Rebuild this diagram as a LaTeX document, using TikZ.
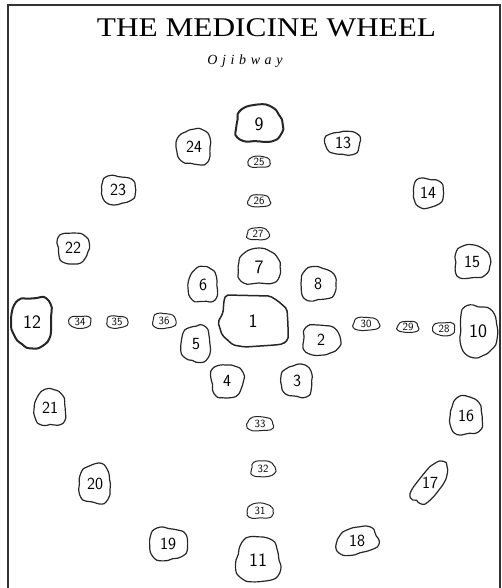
\documentclass[tikz,border=0pt]{standalone}
\usepackage{graphicx}
\usepackage{fontspec}
\newfontfamily\titlefont{Liberation Serif}
\tikzset{
  numlabel/.style={inner sep=0pt, font=\sffamily},
  blobline/.style={line width=1.2pt, line join=round, black!85},
  small/.style={font=\sffamily\fontsize{11}{11}\selectfont, line width=1pt},
  med/.style={font=\sffamily\fontsize{17}{17}\selectfont},
  big/.style={font=\sffamily\fontsize{19}{19}\selectfont},
  heavy/.style={line width=2pt},
  framestyle/.style={line width=1.4pt, black!80},
}
% #1 rotation, #2 name, #3 x, #4 y, #5 width, #6 height, #7 label, #8 style
\newcommand\blob[8][0]{%
  \node[numlabel,#8] (#2) at (#3,#4) {#7};
  \begin{scope}[shift={(#3,#4)},rotate=#1]
    \draw[blobline,#8] plot[smooth cycle, samples=24, domain=0:345, variable=\t]
      ({#5/2*cos(\t)*(1+0.06*(1-cos(4*\t))+0.06*sin(3*\t+#3*7)+0.03*cos(5*\t+#4*3)+0.015*sin(11*\t+#3))},
       {#6/2*sin(\t)*(1+0.06*(1-cos(4*\t))+0.06*sin(3*\t+#3*7)+0.03*cos(5*\t+#4*3)+0.015*sin(11*\t+#3))});
  \end{scope}
}
\begin{document}
\begin{tikzpicture}[x=1pt,y=-1pt]
\useasboundingbox (0,0) rectangle (501,588);
\draw[framestyle] (8,590) -- (8,5) -- (500,5) -- (500,590);

\node[inner sep=0pt, anchor=base] (title) at (266.5,37)
  {\scalebox{1.16}[1]{\titlefont\fontsize{27}{30}\selectfont THE MEDICINE WHEEL}};
\node[inner sep=0pt, anchor=base] (sub) at (245,65)
  {\titlefont\itshape\fontsize{14}{16}\selectfont O\kern4.6pt j\kern4.6pt i\kern4.6pt b\kern4.6pt w\kern4.6pt a\kern4.6pt y};

% centre stone
\node[numlabel, big] (n1) at (253,321) {1};
\draw[blobline, line width=1.5pt, rounded corners=2pt]
  (226,295) -- (248,295.5) -- (270,296) -- (278,301) -- (287,309) -- (288,325) -- (288,340)
  -- (285,342) -- (283,344) -- (275,345) -- (245,347) -- (233,345) -- (222,335)
  -- (218,322) -- (223,313) -- (224,300) -- cycle;

\blob{n9}{259}{124}{46}{37}{9}{big,heavy}
\blob{n24}{194}{147}{34}{35}{24}{med}
\blob{n13}{343}{143}{35}{23}{13}{med}
\blob{n25}{259}{162}{22}{11}{25}{small}
\blob{n26}{259}{201}{22}{12}{26}{small}
\blob{n27}{258}{234}{22}{12}{27}{small}
\blob{n7}{259}{267}{42}{35}{7}{big}
\blob{n14}{428}{193}{30}{29}{14}{med}
\blob{n15}{472}{262}{35}{33}{15}{med}
\blob{n8}{318}{284}{35}{33}{8}{med}
\blob{n23}{118}{190}{34}{28}{23}{med}
\blob{n22}{73}{248}{31}{31}{22}{med}
\blob{n6}{203}{285}{29}{35}{6}{med}
\blob{n12}{32}{322}{40}{50}{12}{big,heavy}
\blob{n34}{80}{322}{22}{12}{34}{small}
\blob{n35}{117}{322}{21}{12}{35}{small}
\blob{n36}{164}{321}{23}{15}{36}{small}
\blob{n5}{196}{344}{29}{36}{5}{med}
\blob{n4}{227}{381}{32}{33}{4}{med}
\blob{n21}{50}{408}{31}{36}{21}{med}
\blob{n2}{321}{340}{37}{30}{2}{med}
\blob{n3}{297}{381}{31}{32}{3}{med}
\blob{n30}{366}{324}{26}{13}{30}{small}
\blob{n29}{408}{327}{21}{11}{29}{small}
\blob{n28}{444}{329}{22}{13}{28}{small}
\blob{n10}{478}{331}{37}{51}{10}{big}
\blob{n33}{260}{424}{26}{14}{33}{small}
\blob{n16}{466}{416}{32}{38}{16}{med}
\blob{n20}{95}{484}{31}{39}{20}{med}
\blob{n19}{168}{544}{38}{32}{19}{med}
\blob{n11}{258}{560}{43}{45}{11}{big}
\blob{n32}{263}{469}{24}{16}{32}{small}
\blob{n31}{260}{511}{26}{15}{31}{small}
\blob[52]{n17}{430}{483}{48}{22}{17}{med}
\blob[15]{n18}{357}{541}{42}{26}{18}{med}
\end{tikzpicture}
\end{document}
